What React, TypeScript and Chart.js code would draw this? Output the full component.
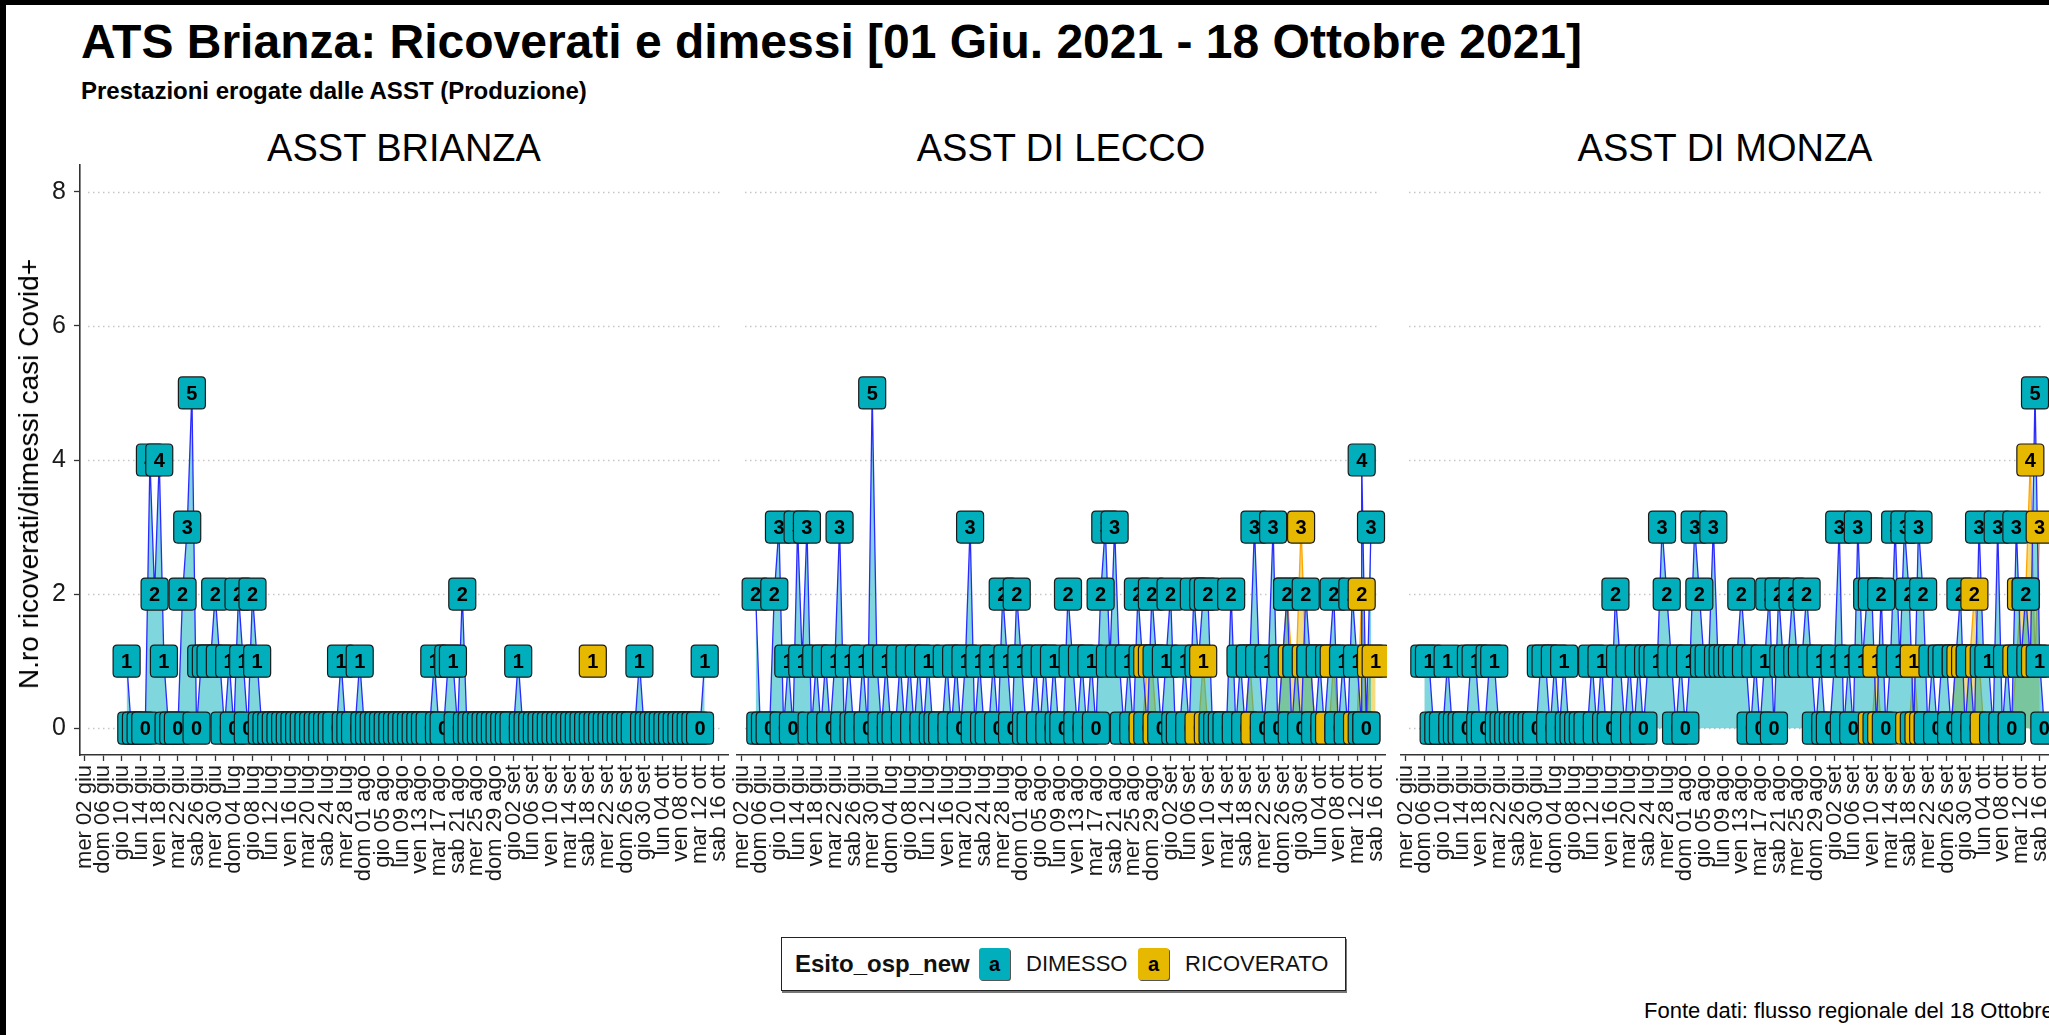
import React, { useEffect, useRef } from 'react';
import { Chart, registerables } from 'chart.js';

Chart.register(...registerables);

const FONT = "'Liberation Sans', Arial, Helvetica, sans-serif";
Chart.defaults.font.family = FONT;

// ---------- data ----------
// day index 0 = 01 Jun 2021 ... 139 = 18 Oct 2021
const tickDays = [1, 5, 9, 13, 17, 21, 25, 29, 33, 37, 41, 45, 49, 53, 57, 61, 65, 69, 73, 77, 81, 85, 89, 93, 97, 101, 105, 109, 113, 117, 121, 125, 129, 133, 137];
const tickLabels = [
  'mer 02 giu', 'dom 06 giu', 'gio 10 giu', 'lun 14 giu', 'ven 18 giu', 'mar 22 giu', 'sab 26 giu', 'mer 30 giu',
  'dom 04 lug', 'gio 08 lug', 'lun 12 lug', 'ven 16 lug', 'mar 20 lug', 'sab 24 lug', 'mer 28 lug',
  'dom 01 ago', 'gio 05 ago', 'lun 09 ago', 'ven 13 ago', 'mar 17 ago', 'sab 21 ago', 'mer 25 ago', 'dom 29 ago',
  'gio 02 set', 'lun 06 set', 'ven 10 set', 'mar 14 set', 'sab 18 set', 'mer 22 set', 'dom 26 set', 'gio 30 set',
  'lun 04 ott', 'ven 08 ott', 'mar 12 ott', 'sab 16 ott',
];
const yTicks = [0, 2, 4, 6, 8];
const panelTitles = ['ASST BRIANZA', 'ASST DI LECCO', 'ASST DI MONZA'];

type Cell = number | number[] | null;

// DIMESSO, one entry per day (an array = several records on the same day)
const brianzaDimesso: Cell[] = [
  null, null, null, null, null, null, null, null, null, null,
  1, 0, 0, 0, 0, 4, 2, 4, 1, 0,
  0, 0, 2, 3, 5, 0, 1, 1, 1, 2,
  1, 0, 1, 0, 2, 1, 0, 2, 1, 0,
  0, 0, 0, 0, 0, 0, 0, 0, 0, 0,
  0, 0, 0, 0, 0, 0, 1, 0, 0, 0,
  1, 0, 0, 0, 0, 0, 0, 0, 0, 0,
  0, 0, 0, 0, 0, 0, 1, 0, 0, 1,
  1, 0, 2, 0, 0, 0, 0, 0, 0, 0,
  0, 0, 0, 0, 1, 0, 0, 0, 0, 0,
  0, 0, 0, 0, 0, 0, 0, 0, 0, 0,
  0, 0, 0, 0, 0, 0, 0, 0, 0, 0,
  1, 0, 0, 0, 0, 0, 0, 0, 0, 0,
  0, 0, 0, 0, 1, null, null, null, null, null,
];
const leccoDimesso: Cell[] = [
  null, null, null, null, 2, 0, 0, 0, 2, 3,
  0, 1, 0, 3, 1, 3, 0, 1, 0, 1,
  0, 1, 3, 0, 1, 0, 0, 1, 0, 5,
  1, 0, 1, 0, 0, 1, 0, 1, 0, 1,
  0, 1, 0, 0, 0, 1, 0, 1, 0, 1,
  3, 0, 1, 0, 0, 1, 0, 2, 1, 0,
  2, 1, 0, 0, 1, 0, 1, 0, 1, 0,
  0, 2, 1, 0, 1, 0, 1, 0, 2, 3,
  1, 3, 1, 0, 1, 0, 2, 1, 0, 2,
  1, 0, 1, 2, 0, 0, 1, 0, 2, 1,
  2, 2, 0, 0, 0, 0, 2, 0, 1, 0,
  1, 3, 1, 0, 1, 3, 0, 1, 2, 0,
  1, 0, 2, 1, 0, 1, 0, 1, 2, 0,
  1, 0, 2, 1, [0, 4], 0, 3, null, null, null,
];
const monzaDimesso: Cell[] = [
  null, null, null, null, null, 1, 1, 0, 0, 0,
  1, 0, 0, 0, 0, 1, 1, 0, 0, 1,
  1, 0, 0, 0, 0, 0, 0, 0, 0, 0,
  1, 1, 0, 1, 0, 1, 0, 0, 0, 0,
  0, 1, 0, 1, 0, 0, 2, 1, 0, 1,
  0, 1, 0, 1, 1, 1, 3, 2, 1, 0,
  1, 0, 1, 3, 2, 1, 1, 3, 1, 1,
  1, 1, 1, 2, 1, 0, 1, 0, 1, 2,
  0, 2, 1, 1, 2, 1, 1, 2, 1, 0,
  1, 0, 0, 1, 3, 0, 1, 0, 3, 1,
  2, 2, 0, 2, 0, 1, 3, 1, 3, 2,
  0, 3, 2, 0, 1, 0, 1, 1, 0, 1,
  2, 0, 1, 0, 3, 1, 1, 0, 3, 0,
  1, 0, 3, 1, 2, 1, 5, 1, 0, null,
];

// RICOVERATO, sparse (day, value)
const brianzaRicDays = [110];
const brianzaRicValues = [1];
const leccoRicDays = [87, 88, 89, 90, 99, 100, 101, 109, 110, 111, 116, 117, 118, 119, 120, 121, 122, 123, 124, 127, 128, 129, 133, 134, 135, 136, 137];
const leccoRicValues = [0, 1, 1, 0, 0, 1, 0, 0, 1, 0, 0, 1, 2, 1, 1, 3, 1, 1, 0, 0, 1, 0, 0, 2, 0, 1, 1];
const monzaRicDays = [101, 102, 103, 109, 110, 111, 112, 113, 118, 119, 120, 121, 122, 123, 124, 125, 131, 132, 133, 134, 135, 136, 137];
const monzaRicValues = [0, 1, 0, 0, 1, 0, 0, 0, 0, 1, 1, 1, 1, 2, 1, 0, 0, 1, 2, 2, 4, 1, 3];

// ---------- styling ----------
const COL_DIM = '#00AFBB';
const COL_RIC = '#E7B800';
const LABEL_FILLS = [COL_DIM, COL_RIC];

function toPoints(series: Cell[]) {
  const pts: { x: number; y: number | null }[] = [];
  series.forEach((c, d) => {
    if (c === null) { pts.push({ x: d, y: null }); return; }
    (Array.isArray(c) ? c : [c]).forEach((v) => pts.push({ x: d, y: v }));
  });
  return pts;
}

function sparsePoints(days: number[], values: number[]) {
  const pts: { x: number; y: number | null }[] = [];
  days.forEach((d, i) => {
    if (i > 0 && d - days[i - 1] > 1) pts.push({ x: (d + days[i - 1]) / 2, y: null });
    pts.push({ x: d, y: values[i] });
  });
  return pts;
}

function roundRectPath(ctx: CanvasRenderingContext2D, x: number, y: number, w: number, h: number, r: number) {
  ctx.moveTo(x + r, y);
  ctx.lineTo(x + w - r, y);
  ctx.quadraticCurveTo(x + w, y, x + w, y + r);
  ctx.lineTo(x + w, y + h - r);
  ctx.quadraticCurveTo(x + w, y + h, x + w - r, y + h);
  ctx.lineTo(x + r, y + h);
  ctx.quadraticCurveTo(x, y + h, x, y + h - r);
  ctx.lineTo(x, y + r);
  ctx.quadraticCurveTo(x, y, x + r, y);
  ctx.closePath();
}

const gridPlugin = {
  id: 'dotGrid',
  beforeDatasetsDraw(chart: any) {
    const { ctx, chartArea, scales } = chart;
    ctx.save();
    ctx.strokeStyle = '#c6c6c6';
    ctx.lineWidth = 1.3;
    ctx.setLineDash([1.5, 3.5]);
    for (const v of yTicks) {
      const y = Math.round(scales.y.getPixelForValue(v)) + 0.5;
      ctx.beginPath();
      ctx.moveTo(chartArea.left + 8, y);
      ctx.lineTo(chartArea.right - 6, y);
      ctx.stroke();
    }
    ctx.restore();
  },
};

const labelPlugin = {
  id: 'geomLabel',
  afterDatasetsDraw(chart: any) {
    const ctx: CanvasRenderingContext2D = chart.ctx;
    const items: any[] = [];
    chart.data.datasets.forEach((ds: any, di: number) => {
      const meta = chart.getDatasetMeta(di);
      meta.data.forEach((el: any, j: number) => {
        const raw = ds.data[j];
        if (!raw || raw.y === null || raw.y === undefined) return;
        items.push({ px: el.x, py: el.y, day: raw.x, v: raw.y, fill: LABEL_FILLS[di], rank: di === 1 ? 0 : 1, j });
      });
    });
    items.sort((a, b) => a.day - b.day || a.rank - b.rank || a.j - b.j);
    ctx.save();
    ctx.font = `bold 20px ${FONT}`;
    ctx.textAlign = 'center';
    ctx.textBaseline = 'alphabetic';
    const w = 27, h = 32;
    for (const it of items) {
      ctx.beginPath();
      roundRectPath(ctx, it.px - w / 2, it.py - h / 2, w, h, 4);
      ctx.fillStyle = it.fill;
      ctx.fill();
      ctx.lineWidth = 1.2;
      ctx.strokeStyle = '#1b1b1b';
      ctx.stroke();
      ctx.fillStyle = '#000';
      ctx.fillText(String(it.v), it.px, it.py + 7);
    }
    ctx.restore();
  },
};

// canvas geometry: padLeft = space kept left of the plot area inside the canvas
const panels = [
  { title: panelTitles[0], canvasLeft: 0, padLeft: 0, plotLeft: 80, width: 730, yAxis: true, dim: brianzaDimesso, ricDays: brianzaRicDays, ricValues: brianzaRicValues },
  { title: panelTitles[1], canvasLeft: 717, padLeft: 20, plotLeft: 737, width: 670, yAxis: false, dim: leccoDimesso, ricDays: leccoRicDays, ricValues: leccoRicValues },
  { title: panelTitles[2], canvasLeft: 1381, padLeft: 20, plotLeft: 1401, width: 670, yAxis: false, dim: monzaDimesso, ricDays: monzaRicDays, ricValues: monzaRicValues },
];

const CANVAS_TOP = 130;
const CANVAS_H = 780;

function buildConfig(p: typeof panels[number]): any {
  return {
    type: 'line',
    data: {
      datasets: [
        {
          label: 'DIMESSO',
          data: toPoints(p.dim),
          borderColor: '#2a2aff',
          borderWidth: 1.3,
          backgroundColor: 'rgba(0,175,187,0.5)',
          fill: 'origin',
          pointRadius: 0,
          tension: 0,
          spanGaps: false,
        },
        {
          label: 'RICOVERATO',
          data: sparsePoints(p.ricDays, p.ricValues),
          borderColor: '#FFA500',
          borderWidth: 1.3,
          backgroundColor: 'rgba(231,184,0,0.5)',
          fill: 'origin',
          pointRadius: 0,
          tension: 0,
          spanGaps: false,
        },
      ],
    },
    options: {
      responsive: false,
      animation: false,
      devicePixelRatio: 1,
      layout: { padding: { top: 35, right: 2, left: p.padLeft, bottom: 0 } },
      plugins: { legend: { display: false }, tooltip: { enabled: false }, title: { display: false } },
      scales: {
        x: {
          type: 'linear',
          min: 0,
          max: 139,
          bounds: 'data',
          afterBuildTicks: (s: any) => { s.ticks = tickDays.map((v) => ({ value: v })); },
          afterFit: (s: any) => { s.height = 155; s.paddingLeft = 0; s.paddingRight = 0; },
          ticks: {
            autoSkip: false,
            minRotation: 90,
            maxRotation: 90,
            padding: 4,
            color: '#1a1a1a',
            font: { size: 22, family: FONT },
            callback: (v: number) => { const i = tickDays.indexOf(v); return i >= 0 ? tickLabels[i] : ''; },
          },
          grid: { display: true, drawOnChartArea: false, drawTicks: true, tickLength: 6, tickColor: '#333', tickWidth: 1.3 },
          border: { display: true, color: '#333', width: 1.6 },
        },
        y: {
          type: 'linear',
          min: -0.4,
          max: 8.4,
          bounds: 'data',
          display: p.yAxis,
          afterBuildTicks: (s: any) => { s.ticks = yTicks.map((v) => ({ value: v })); },
          afterFit: (s: any) => { s.width = p.yAxis ? 80 : 0; s.paddingTop = 0; s.paddingBottom = 0; },
          ticks: { color: '#1a1a1a', font: { size: 25, family: FONT }, padding: 8, callback: (v: number) => String(v) },
          grid: { display: true, drawOnChartArea: false, drawTicks: true, tickLength: 6, tickColor: '#333', tickWidth: 1.3 },
          border: { display: true, color: '#333', width: 1.6 },
        },
      },
    },
    plugins: [gridPlugin, labelPlugin],
  };
}

export default function App() {
  const r0 = useRef<HTMLCanvasElement>(null);
  const r1 = useRef<HTMLCanvasElement>(null);
  const r2 = useRef<HTMLCanvasElement>(null);
  const refs = [r0, r1, r2];

  useEffect(() => {
    const charts = panels.map((p, i) => new Chart(refs[i].current as HTMLCanvasElement, buildConfig(p)));
    return () => charts.forEach((c) => c.destroy());
  }, []);

  const keyStyle = (bg: string): React.CSSProperties => ({
    position: 'absolute', top: '50%', transform: 'translateY(-50%)', width: 31, height: 32,
    background: bg, borderRadius: 3, boxShadow: '1px 1px 0 #555', fontWeight: 700, fontSize: 20,
    lineHeight: '32px', textAlign: 'center', color: '#000',
  });
  const legendText = (left: number, bold: boolean, size: number): React.CSSProperties => ({
    position: 'absolute', left, top: '50%', transform: 'translateY(-50%)', fontSize: size,
    fontWeight: bold ? 700 : 400, lineHeight: 1, whiteSpace: 'nowrap', color: '#111',
  });

  return (
    <div style={{ position: 'fixed', left: 0, top: 0, width: 2049, height: 1035, overflow: 'hidden', background: '#fff', fontFamily: FONT, color: '#000' }}>
      <div style={{ position: 'absolute', left: 81, top: 18, fontSize: 48, fontWeight: 700, lineHeight: 1, whiteSpace: 'nowrap' }}>
        ATS Brianza: Ricoverati e dimessi [01 Giu. 2021 - 18 Ottobre 2021]
      </div>
      <div style={{ position: 'absolute', left: 81, top: 79, fontSize: 24, fontWeight: 700, lineHeight: 1, whiteSpace: 'nowrap' }}>
        Prestazioni erogate dalle ASST (Produzione)
      </div>
      {panels.map((p) => (
        <div key={p.title} style={{ position: 'absolute', left: p.plotLeft, top: 129, width: 648, textAlign: 'center', fontSize: 38, lineHeight: 1, whiteSpace: 'nowrap' }}>
          {p.title}
        </div>
      ))}
      {panels.map((p, i) => (
        <canvas key={'c' + i} ref={refs[i]} width={p.width} height={CANVAS_H}
          style={{ position: 'absolute', left: p.canvasLeft, top: CANVAS_TOP, width: p.width, height: CANVAS_H }} />
      ))}
      <div style={{ position: 'absolute', left: 29, top: 474, transform: 'translate(-50%, -50%) rotate(-90deg)', fontSize: 28, lineHeight: 1, whiteSpace: 'nowrap' }}>
        N.ro ricoverati/dimessi casi Covid+
      </div>
      <div style={{ position: 'absolute', left: 781, top: 937, width: 563, height: 52, border: '1.5px solid #222', boxShadow: '1px 2px 0 #777', background: '#fff' }}>
        <div style={legendText(13, true, 24)}>Esito_osp_new</div>
        <div style={{ ...keyStyle(COL_DIM), left: 197 }}>a</div>
        <div style={legendText(244, false, 22)}>DIMESSO</div>
        <div style={{ ...keyStyle(COL_RIC), left: 356 }}>a</div>
        <div style={legendText(403, false, 22)}>RICOVERATO</div>
      </div>
      <div style={{ position: 'absolute', left: 1644, top: 1000, fontSize: 22, lineHeight: 1, whiteSpace: 'nowrap' }}>
        Fonte dati: flusso regionale del 18 Ottobre 2021
      </div>
      <div style={{ position: 'absolute', left: 0, top: 0, width: 6, height: 1035, background: '#000' }} />
      <div style={{ position: 'absolute', left: 0, top: 0, width: 2049, height: 5, background: '#000' }} />
    </div>
  );
}
